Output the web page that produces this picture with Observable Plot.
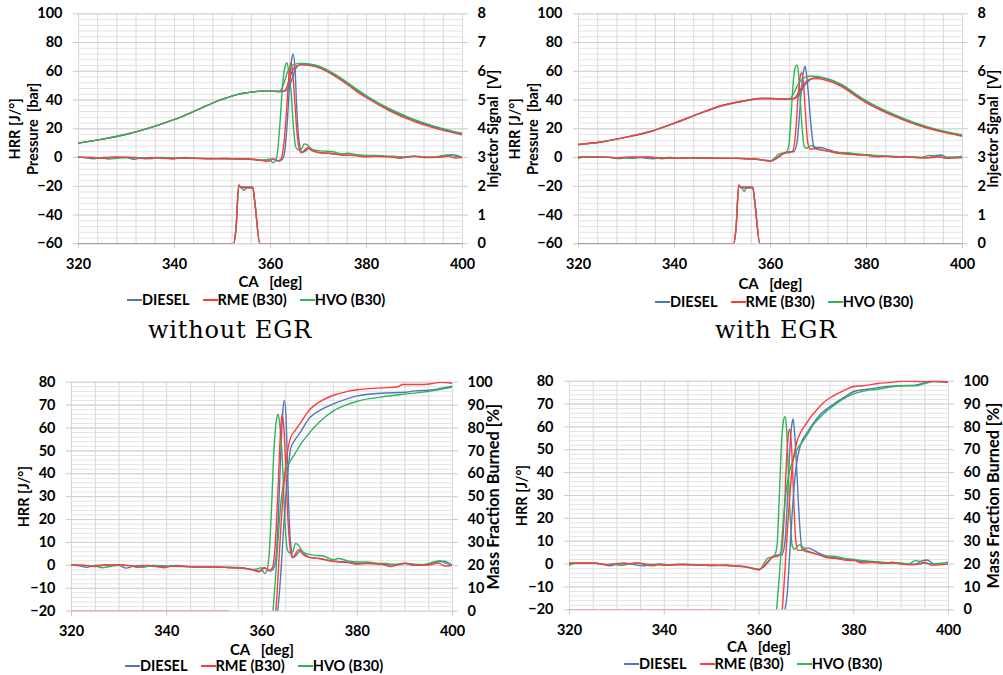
<!DOCTYPE html>
<html><head><meta charset="utf-8">
<script src="https://cdn.jsdelivr.net/npm/d3@7"></script>
<script src="https://cdn.jsdelivr.net/npm/@observablehq/plot@0.6"></script>
<style>
body{margin:0;background:#fff;}
#root{position:relative;width:1003px;height:675px;overflow:hidden;font-family:Lato,sans-serif;}
.panel{position:absolute;}
.legend{position:absolute;display:flex;align-items:center;font:700 14.5px Lato,sans-serif;white-space:nowrap;line-height:14px;}
.legend .item{display:flex;align-items:center;margin-right:13px;}
.legend .sw{display:inline-block;width:15px;height:1.6px;}
.caption{position:absolute;font:24px "DejaVu Serif",serif;letter-spacing:0.8px;white-space:nowrap;transform:translateX(-50%);}
</style></head><body><div id="root"></div>
<script>
// ---------- labels / ticks ----------
const FUELS = ["DIESEL", "RME (B30)", "HVO (B30)"];
const COLORS = ["#4f78b8", "#ff3b3b", "#2fb45b"];
const CA_TICKS = [320, 340, 360, 380, 400];
const TOP_Y_TICKS = [-60, -40, -20, 0, 20, 40, 60, 80, 100];
const INJ_TICK_LABELS = [0, 1, 2, 3, 4, 5, 6, 7, 8];
const BOT_Y_TICKS = [-20, -10, 0, 10, 20, 30, 40, 50, 60, 70, 80];
const MFB_TICK_LABELS = [0, 10, 20, 30, 40, 50, 60, 70, 80, 90, 100];
const CAPTIONS = ["without EGR", "with EGR"];

// ---------- without EGR ----------
const compressionNoEGR = [[320,10],[325,12.8],[330,16.2],[335,20.8],[340,26.5],[345,33.5],[350,40.6],[353,43.8],[355,45],[358,46.2],[360,46.2],[361.5,46]];
const pressureDieselNoEGR = [...compressionNoEGR,[362.5,46],[363.3,46.5],[363.8,48.5],[364.3,53],[364.8,58],[365.3,62],[365.8,64],[366.5,64.9],[367.5,65],[368.5,64.6],[370,63.2],[372,60],[375,53.8],[378,46.6],[380,42.3],[385,32.9],[390,25.7],[395,20.4],[400,16.2]];
const pressureRmeNoEGR = [...compressionNoEGR,[362.3,46],[362.9,46.5],[363.4,49],[363.9,54],[364.4,59],[364.9,62.5],[365.6,64],[366.5,64.5],[368,64.1],[370,62.6],[372,59.5],[375,53.2],[378,45.9],[380,41.6],[385,32.2],[390,25],[395,19.8],[400,15.8]];
const pressureHvoNoEGR = [...compressionNoEGR,[362,46.4],[362.5,49],[363,54],[363.5,59],[364,62.5],[364.8,64.6],[366,65.4],[367,65.5],[368,65.1],[370,63.7],[372,60.6],[375,54.6],[378,47.4],[380,43],[385,33.6],[390,26.4],[395,21],[400,16.8]];

const hrrDieselNoEGR = [[320,0.3],[322,-0.3],[323,-0.8],[325,0],[328,0.2],[330,0],[331.5,-1.2],[333,-0.3],[335,0],[338,-0.5],[340,-0.5],[342,0],[345,-0.6],[348,-0.8],[350,-0.7],[353,-1],[355,-1.2],[357,-1.5],[358.5,-2],[359.5,-2.5],[360.3,-1],[361,-1.5],[361.8,-2.5],[362.5,-1],[363,5],[363.5,25],[364,52],[364.4,68],[364.7,72],[365.1,62],[365.5,32],[366,10],[366.6,3.5],[367.2,4.5],[368.2,6.5],[369,4.8],[370,3.5],[372,3],[375,1.8],[378,1.5],[380,0.8],[382,1],[385,0.6],[388,0.2],[390,0.8],[392,0.2],[395,0.5],[397,1.5],[398.3,1.8],[399.3,1],[400,0]];
const hrrRmeNoEGR = [[320,0.3],[323,0],[325,-0.5],[327,0.2],[330,0.3],[332,0],[334,-0.8],[336,0],[338,-0.5],[339.5,-1],[341,-0.3],[344,-0.5],[347,-0.8],[350,-0.7],[353,-0.9],[356,-1.2],[358,-2],[359.5,-2.8],[360.5,-1],[361.5,-2.2],[362.2,-1],[362.8,10],[363.3,30],[363.8,55],[364.2,66],[364.6,60],[365,42],[365.5,18],[366,6],[366.4,3.3],[367.2,5.5],[367.8,7],[368.5,5],[370,3.5],[372,3],[375,1.8],[378,1.2],[380,0.5],[382,0.8],[385,0.5],[387,-0.5],[390,1],[392,0],[395,0.2],[397,1],[398.5,-0.3],[400,0]];
const hrrHvoNoEGR = [[320,0.3],[322,0],[325,-0.3],[326.5,-1],[328,-0.5],[330,0],[333,-0.3],[335,-0.8],[337,0],[340,-0.3],[343,-0.5],[346,-0.6],[350,-0.8],[353,-0.8],[356,-1],[358,-1.8],[359,-1.5],[359.8,-1],[360.5,-3.5],[361,-2.5],[361.5,5],[362,25],[362.5,50],[363,63],[363.4,66],[363.8,60],[364.3,45],[364.8,20],[365.3,7],[365.8,5.5],[366.5,6],[367,9.5],[367.6,9],[368.5,6],[369.5,5],[371,4.5],[373,4],[375,2.5],[376,3],[378,2],[380,1.5],[382,1.5],[384,1],[386,0.8],[388,0.5],[390,1],[392,0.5],[394,0.3],[396,1.5],[397.3,2],[398.5,1],[400,0]];

const injDieselNoEGR = [[320,0],[352.3,0],[352.8,0.5],[353.4,2.05],[353.8,1.98],[356.3,1.98],[356.7,1.5],[357.8,0],[400,0]];
const injRmeNoEGR = [[320,0],[352.3,0],[352.8,0.5],[353.4,2.05],[353.8,1.95],[356.3,1.95],[356.7,1.5],[357.8,0],[400,0]];
const injHvoNoEGR = [[320,0],[352.3,0],[352.8,0.5],[353.4,2.0],[354,1.95],[354.5,1.85],[355,1.95],[356.3,1.95],[356.7,1.5],[357.8,0],[400,0]];

const mfbDieselNoEGR = [[362.5,-10],[363.3,0],[364,18],[364.5,35],[365,50],[365.5,62],[366,71],[367,75],[368,78],[370,84.5],[372,87.5],[375,90.5],[378,92.8],[380,94],[385,95.2],[390,95.6],[392,96.2],[395,96.5],[398,97.5],[400,98.3]];
const mfbRmeNoEGR = [[320,0],[353,0],[353.5,-2],[362,-10],[362.9,0],[363.5,20],[364,38],[364.5,53],[365,64],[365.5,71.5],[366,75.7],[367,79],[368,82],[370,88],[372,91.3],[375,94.3],[378,96],[380,96.7],[385,97.5],[388.5,98],[389.5,99],[394,99],[396,99.5],[397.5,100],[400,99.5]];
const mfbHvoNoEGR = [[361.5,-10],[362.3,0],[363,20],[363.5,35],[364,48],[364.5,56],[365,61.5],[365.5,64],[366,65.8],[367,69],[368,72.5],[370,78],[372,82.5],[375,87.5],[378,90.3],[380,91.7],[385,93.5],[390,94.8],[395,96],[400,97.8]];

// ---------- with EGR ----------
const compressionEGR = [[320,9.1],[325,11],[330,14.2],[335,18.1],[340,23.9],[345,30.4],[350,36.2],[355,39.7],[358,41.1],[360,41.1],[362,40.7],[363.5,40.6]];
const pressureDieselEGR = [...compressionEGR,[365,41],[365.8,43],[366.5,46.5],[367.2,50.5],[368,53.5],[369,55.3],[370,55.6],[372,54.5],[375,49.8],[378,42.8],[380,38.6],[385,30.3],[390,23.7],[395,18.8],[400,15.3]];
const pressureRmeEGR = [...compressionEGR,[364.6,40.8],[365.3,42.5],[366,46],[366.8,50.5],[367.6,53.3],[368.6,54.8],[369.6,55],[371,54.3],[375,49],[378,42.2],[380,38],[385,29.8],[390,23.2],[395,18.4],[400,14.8]];
const pressureHvoEGR = [...compressionEGR,[364,40.8],[364.6,43],[365.3,48],[366,52.3],[367,55.5],[368,56.6],[369,56.6],[371,55.6],[375,50.6],[378,43.6],[380,39.4],[385,31],[390,24.3],[395,19.3],[400,15.8]];

const hrrDieselEGR = [[320,0.5],[322,0.3],[325,0.5],[327,0],[328.5,-0.7],[330,0],[331.5,0.5],[333,0],[335.5,-0.8],[337,-0.3],[339,0],[341,-0.5],[343,-0.2],[345,-0.3],[348,-0.5],[350,-0.6],[353,-0.5],[355,-1],[357,-1.2],[358.5,-1.8],[360,-2.2],[361,-1.2],[362,1],[363,3.5],[364,4],[364.8,4],[365.5,10],[366,28],[366.5,50],[367,62],[367.2,63.5],[367.6,55],[368,40],[368.5,20],[369,8],[369.5,7],[370.5,7],[371.5,6],[373,4.5],[375,3],[377,2.5],[379,2],[380,2],[381.5,1],[383,1],[385,0.8],[387,0.3],[389,0.5],[391,0],[393,0],[394.5,1.5],[395.5,1.8],[397,0],[400,0]];
const hrrRmeEGR = [[320,0.3],[322,0.5],[324,0.5],[326,0.3],[328,-0.3],[330,0.3],[332,0],[334,0.5],[336,0],[338,-0.3],[340,-0.5],[342,-0.3],[345,-0.2],[348,-0.5],[350,-0.5],[353,-0.6],[355,-0.8],[357,-1],[358.5,-1.8],[360,-2.5],[361,-1],[362,1.5],[363,3],[364,3.5],[364.7,5],[365.3,20],[365.8,45],[366.3,58],[366.5,59],[366.9,50],[367.3,30],[367.7,12],[368.2,6],[368.8,6],[369.5,6.5],[370.5,5.5],[372,4.5],[374,3],[376,2.5],[378,1.8],[380,1.5],[382,0.5],[384,0.8],[386,0.3],[388,0.8],[390,0],[392,-0.3],[394,0],[395,0.8],[396.5,-0.5],[400,0]];
const hrrHvoEGR = [[320,-0.5],[321.5,0.5],[323,0.3],[325,0.5],[327.5,-0.3],[329,0],[331,-0.6],[332.5,0],[334.5,0.5],[336,-0.3],[337.5,-0.8],[339,0],[341,-0.3],[344,-0.1],[347,-0.4],[350,-0.6],[353,-0.5],[355,-0.8],[357,-1.2],[358.5,-1.8],[360,-2.5],[361,0],[361.8,2.5],[362.5,3],[363.2,3.5],[363.8,8],[364.3,30],[364.8,55],[365.2,63],[365.5,64.5],[365.8,60],[366.2,40],[366.6,20],[367,8],[367.5,6.5],[368,7.5],[368.6,8.5],[369.3,6],[370,5.5],[372,4.5],[374,3.5],[376,3.3],[378,2.5],[380,2],[382,1.5],[385,1],[388,0.5],[390,0.5],[391.5,0],[393,1.5],[394,1.2],[395,0.3],[397,0.2],[399,0.5],[400,1]];

const injDieselEGR = [[320,0],[352.3,0],[352.8,0.5],[353.4,2.05],[353.8,1.98],[356.3,1.98],[356.7,1.5],[357.8,0],[400,0]];
const injRmeEGR = [[320,0],[352.3,0],[352.8,0.5],[353.4,2.05],[353.8,1.95],[356.3,1.95],[356.7,1.5],[357.8,0],[400,0]];
const injHvoEGR = [[320,0],[352.3,0],[352.8,0.5],[353.4,2.0],[354,1.95],[354.5,1.82],[355,1.95],[356.3,1.95],[356.7,1.5],[357.8,0],[400,0]];

const mfbDieselEGR = [[364.5,-10],[365.5,0],[366,8],[366.5,25],[367,42],[367.5,56],[368,65],[368.5,70],[369.1,74],[370,77],[371.6,82],[373,85.5],[375.8,90],[378,93],[380,95.5],[383,96.5],[385,97.2],[390,98],[393,98.3],[395,99.3],[396.5,100],[400,99.5]];
const mfbRmeEGR = [[320,0],[353.2,0],[353.6,-2],[364,-10],[364.9,0],[365.5,18],[366,35],[366.5,50],[367,62],[367.4,68],[368,73.5],[368.8,77.7],[370,81.5],[370.9,84.3],[372,87],[373.7,90.8],[375.8,93.7],[378,96],[380,97.7],[382,98],[385,99],[388,99.5],[390,100],[392,100],[395,99.8],[397,100],[400,99.5]];
const mfbHvoEGR = [[363,-10],[363.7,0],[364.3,15],[364.8,30],[365.3,43],[365.8,53],[366.4,60],[367.4,66.8],[368,70],[369.1,73.3],[370,76],[371.6,81.3],[373.5,85.5],[375.8,89.4],[378,92.5],[380,94.5],[383,96],[385,96.5],[388,97.5],[390,98],[393,98],[395,99],[397,99.8],[400,99.5]];

// ---------- drawing ----------
const root = document.getElementById("root");
const FS = 14.5;
const injToLeft = d3.scaleLinear().domain([INJ_TICK_LABELS[0], INJ_TICK_LABELS[INJ_TICK_LABELS.length-1]]).range([TOP_Y_TICKS[0], TOP_Y_TICKS[TOP_Y_TICKS.length-1]]);
const mfbToLeft = d3.scaleLinear().domain([MFB_TICK_LABELS[0], MFB_TICK_LABELS[MFB_TICK_LABELS.length-1]]).range([BOT_Y_TICKS[0], BOT_Y_TICKS[BOT_Y_TICKS.length-1]]);

function line(data, color, f = v => v) {
  return Plot.line(data, {x: d => d[0], y: d => f(d[1]), stroke: color, strokeWidth: 1.4, curve: "monotone-x", clip: true});
}

function panel(o) {
  const div = document.createElement("div");
  div.className = "panel";
  div.style.left = o.left + "px"; div.style.top = o.top + "px";
  const yTicks = o.yTicks;
  const font = {fontSize: FS, fontWeight: "bold", fontFamily: "Lato, sans-serif"};
  const title = {textAnchor: "middle", lineAnchor: "middle", ...font};
  const marks = [
    Plot.ruleY(o.minorY, {stroke: "#e3e3e3", strokeWidth: 1}),
    Plot.ruleX(o.gridX, {stroke: "#d8d8d8", strokeWidth: 1}),
    Plot.ruleY(yTicks, {stroke: "#d0d0d0", strokeWidth: 1}),
    Plot.axisY({anchor: "left", ticks: yTicks, tickSize: 5, tickPadding: 11, stroke: "#c8c8c8", fill: "black", label: null, ...font}),
    Plot.axisY({anchor: "right", ticks: yTicks, tickSize: 5, tickPadding: 10, stroke: "#c8c8c8", fill: "black", label: null,
      tickFormat: d => o.rightLabels[yTicks.indexOf(d)], ...font}),
    Plot.axisX({ticks: CA_TICKS, tickSize: 5, tickPadding: 10, stroke: "#c8c8c8", fill: "black", label: null, ...font}),
    ...o.lines,
    Plot.text(["CA\u00a0\u00a0\u00a0[deg]"], {text: d => d, frameAnchor: "bottom", dy: o.xTitleDy, ...title, fontSize: 15}),
    ...o.leftTitles.map(([t, dx]) => Plot.text([t], {text: d => d, frameAnchor: "left", dx, rotate: -90, ...title})),
    Plot.text([o.rightTitle[0]], {text: d => d, frameAnchor: "right", dx: o.rightTitle[1], rotate: -90, ...title, fontSize: o.rightTitle[2] || FS})
  ];
  const svg = Plot.plot({
    width: o.width, height: o.height,
    marginLeft: o.mL, marginRight: o.mR, marginTop: o.mT, marginBottom: o.mB,
    x: {domain: [320, 400]},
    y: {domain: [yTicks[0], yTicks[yTicks.length-1]]},
    style: {fontFamily: "Lato, sans-serif", fontSize: FS + "px", fontWeight: "700", color: "black", background: "transparent", overflow: "visible"},
    marks
  });
  div.appendChild(svg);
  root.appendChild(div);
}

function legend(left, top) {
  const lg = document.createElement("div");
  lg.className = "legend";
  lg.style.left = left + "px"; lg.style.top = top + "px";
  FUELS.forEach((f, i) => {
    const it = document.createElement("span"); it.className = "item";
    const sw = document.createElement("span"); sw.className = "sw"; sw.style.background = COLORS[i];
    const tx = document.createElement("span"); tx.textContent = f;
    it.appendChild(sw); it.appendChild(tx); lg.appendChild(it);
  });
  root.appendChild(lg);
}

function caption(text, cx, top) {
  const c = document.createElement("div");
  c.className = "caption"; c.textContent = text;
  c.style.left = cx + "px"; c.style.top = top + "px";
  root.appendChild(c);
}

const [cD, cR, cH] = COLORS;
const topMinor = d3.range(TOP_Y_TICKS[0], TOP_Y_TICKS[TOP_Y_TICKS.length-1] + 1, 4);
const topGridX = d3.range(320, 401, 4);
const botMinor = d3.range(BOT_Y_TICKS[0], BOT_Y_TICKS[BOT_Y_TICKS.length-1] + 1, 2);
const botGridX = d3.range(320, 401, 5);

// Panel 1: without EGR - pressure / HRR / injector
panel({left: 0, top: 0, width: 500, height: 292, mL: 78, mR: 38, mT: 13.3, mB: 48.7,
  yTicks: TOP_Y_TICKS, rightLabels: INJ_TICK_LABELS, minorY: topMinor, gridX: topGridX, xTitleDy: 38.5,
  leftTitles: [["HRR [J/°]", -63], ["Pressure\u00a0\u00a0[bar]", -45]], rightTitle: ["Injector Signal\u00a0\u00a0[V]", 31],
  lines: [
    line(injDieselNoEGR, cD, injToLeft), line(injHvoNoEGR, cH, injToLeft), line(injRmeNoEGR, cR, injToLeft),
    line(hrrDieselNoEGR, cD), line(hrrHvoNoEGR, cH), line(hrrRmeNoEGR, cR),
    line(pressureDieselNoEGR, cD), line(pressureRmeNoEGR, cR), line(pressureHvoNoEGR, cH)
  ]});

// Panel 2: with EGR
panel({left: 500, top: 0, width: 503, height: 292, mL: 78, mR: 41, mT: 13.3, mB: 48.7,
  yTicks: TOP_Y_TICKS, rightLabels: INJ_TICK_LABELS, minorY: topMinor, gridX: topGridX, xTitleDy: 40.5,
  leftTitles: [["HRR [J/°]", -63], ["Pressure\u00a0\u00a0[bar]", -45]], rightTitle: ["Injector Signal\u00a0\u00a0[V]", 31],
  lines: [
    line(injDieselEGR, cD, injToLeft), line(injHvoEGR, cH, injToLeft), line(injRmeEGR, cR, injToLeft),
    line(hrrDieselEGR, cD), line(hrrHvoEGR, cH), line(hrrRmeEGR, cR),
    line(pressureDieselEGR, cD), line(pressureHvoEGR, cH), line(pressureRmeEGR, cR)
  ]});

// Panel 3: without EGR - HRR / MFB
panel({left: 0, top: 360, width: 500, height: 295, mL: 71, mR: 48, mT: 21.7, mB: 44.3,
  yTicks: BOT_Y_TICKS, rightLabels: MFB_TICK_LABELS, minorY: botMinor, gridX: botGridX, xTitleDy: 38.5,
  leftTitles: [["HRR [J/°]", -47]], rightTitle: ["Mass Fraction Burned [%]", 41, 16.3],
  lines: [
    line(hrrDieselNoEGR, cD), line(hrrHvoNoEGR, cH), line(hrrRmeNoEGR, cR),
    line(mfbDieselNoEGR, cD, mfbToLeft), line(mfbHvoNoEGR, cH, mfbToLeft), line(mfbRmeNoEGR, cR, mfbToLeft)
  ]});

// Panel 4: with EGR - HRR / MFB
panel({left: 500, top: 360, width: 503, height: 295, mL: 69, mR: 55, mT: 20.7, mB: 45.7,
  yTicks: BOT_Y_TICKS, rightLabels: MFB_TICK_LABELS, minorY: botMinor, gridX: botGridX, xTitleDy: 37.5,
  leftTitles: [["HRR [J/°]", -47]], rightTitle: ["Mass Fraction Burned [%]", 45, 16.3],
  lines: [
    line(hrrDieselEGR, cD), line(hrrHvoEGR, cH), line(hrrRmeEGR, cR),
    line(mfbDieselEGR, cD, mfbToLeft), line(mfbHvoEGR, cH, mfbToLeft), line(mfbRmeEGR, cR, mfbToLeft)
  ]});

legend(127, 293);
legend(655, 295);
legend(125, 659);
legend(624, 657);

caption(CAPTIONS[0], 230, 316);
caption(CAPTIONS[1], 776, 316);
</script></body></html>
